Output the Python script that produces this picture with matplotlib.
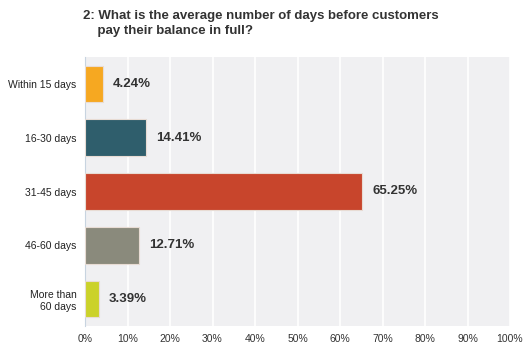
import matplotlib
matplotlib.use('agg')
import matplotlib.pyplot as plt
import numpy as np

categories = ['Within 15 days', '16-30 days', '31-45 days', '46-60 days', 'More than\n60 days']
values = [4.24, 14.41, 65.25, 12.71, 3.39]
colors = ['#f6a821', '#2f5e6c', '#c8452c', '#8a8a7c', '#cbd22a']
xticks = list(range(0, 101, 10))

plt.rcParams['font.family'] = ['Liberation Sans', 'DejaVu Sans']

fig = plt.figure(figsize=(5.24, 3.52), dpi=100)
ax = fig.add_axes([85/524, 26/352, 425/524, 269/352])
ax.set_facecolor('#f0f0f2')

y = np.arange(len(categories))
ax.barh(y, values, height=0.68, color=colors, edgecolor='#e8dcd4', linewidth=0.8, zorder=3)
for yi, v in zip(y, values):
    ax.annotate('%.2f%%' % v, (v, yi), xytext=(7, 0), textcoords='offset points',
                va='center', ha='left', fontsize=9.5, fontweight='bold', color='#333333')

ax.set_xlim(0, 100)
ax.set_ylim(len(categories) - 0.5, -0.5)
ax.set_xticks(xticks)
ax.set_xticklabels(['%d%%' % t for t in xticks], fontsize=7.5, color='#333333')
ax.set_yticks(y)
ax.set_yticklabels(categories, fontsize=7.5, color='#222222')
ax.grid(axis='x', color='white', linewidth=1.2, zorder=1)
ax.tick_params(length=0, pad=6)
for s in ['top', 'right', 'bottom']:
    ax.spines[s].set_visible(False)
ax.spines['left'].set_color('#c8d4e0')
ax.spines['left'].set_linewidth(0.8)

fig.text(83/524, 1 - 10/352, '2: What is the average number of days before customers\n    pay their balance in full?',
         fontsize=9.5, fontweight='bold', color='#333333', va='top', ha='left', linespacing=1.35)

plt.savefig('out.png', dpi=100)
